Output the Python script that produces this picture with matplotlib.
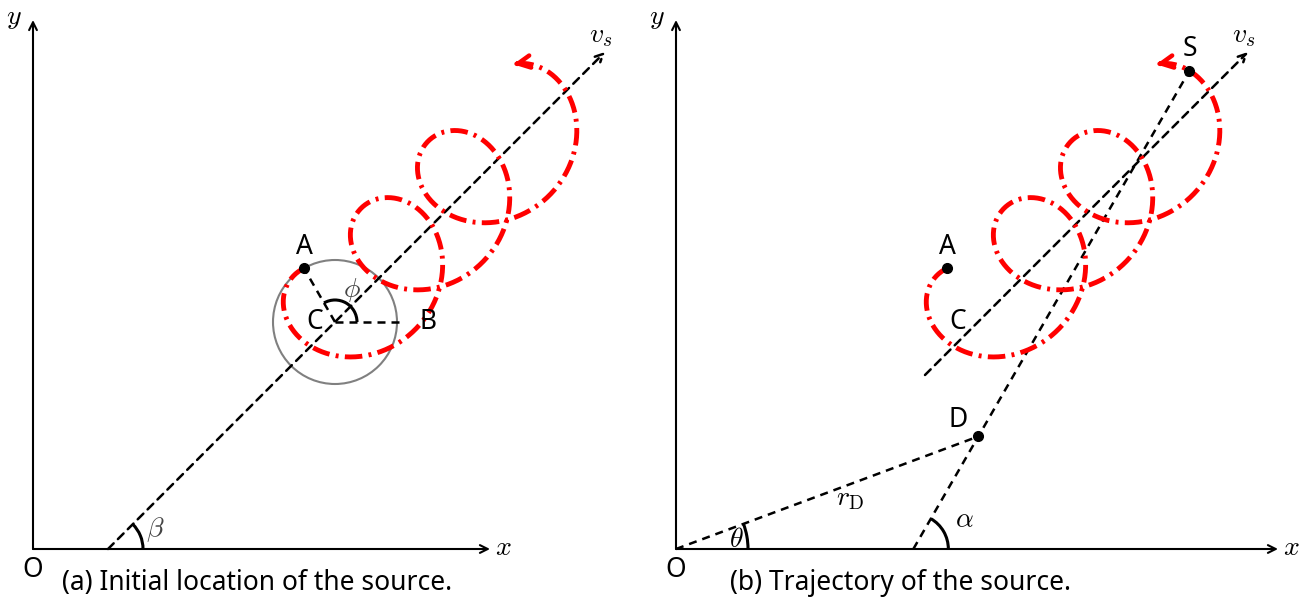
import numpy as np
import matplotlib
matplotlib.use("Agg")
import matplotlib.pyplot as plt
from matplotlib.patches import Arc, Circle
from matplotlib.transforms import Affine2D

plt.rcParams["font.family"] = ["Noto Sans", "DejaVu Sans"]
plt.rcParams["mathtext.fontset"] = "cm"

# panel origins (figure pixels, y up) and axis lengths
panel_origins = [(33, 51), (676, 51)]
x_axis_len = [457, 602]
y_axis_len = 529

# direction of travel v_s
beta_deg = 45.0
line_start_x = [75, 249]     # where the v_s line starts (along y = (x - 75) tan beta)
line_end_x = 572

# initial circle and trochoid
C = (302.0, 227.0)
R = 62.0
phi_deg = 120.0
drift_per_rad = 15.1
theta_end_deg = 1190.0
B_len = 70.0

# panel (b) geometry
theta_S_deg = 1152.0
alpha_deg = 60.0
D_dist = 130.0

captions = ["(a) Initial location of the source.", "(b) Trajectory of the source."]

DASH = (0, (3.2, 2.4))
RED_DASH = (0, (3.6, 1.3, 0.6, 1.3))
TXT = 19
MATH = 20


def trochoid(t_deg):
    t = np.radians(t_deg)
    d = drift_per_rad * (t - np.radians(phi_deg))
    u = np.array([np.cos(np.radians(beta_deg)), np.sin(np.radians(beta_deg))])
    x = C[0] + d * u[0] + R * np.cos(t)
    y = C[1] + d * u[1] + R * np.sin(t)
    return x, y


def line_y(x):
    return (x - line_start_x[0]) * np.tan(np.radians(beta_deg))


def draw_axes(ax, tr, xlen):
    kw = dict(arrowstyle="->", lw=1.5, color="black", mutation_scale=14, shrinkA=0, shrinkB=0)
    ax.annotate("", xy=(xlen, 0), xytext=(0, 0), xycoords=tr, textcoords=tr, arrowprops=kw)
    ax.annotate("", xy=(0, y_axis_len), xytext=(0, 0), xycoords=tr, textcoords=tr, arrowprops=kw)
    ax.text(xlen + 13, 1, "$x$", transform=tr, fontsize=MATH, ha="center", va="center")
    ax.text(-19, y_axis_len + 3, "$y$", transform=tr, fontsize=MATH, ha="center", va="center")
    ax.text(0, -21, "O", transform=tr, fontsize=TXT, ha="center", va="center")


def draw_vs(ax, tr, x0):
    ax.annotate("", xy=(line_end_x, line_y(line_end_x)), xytext=(x0, line_y(x0)),
                xycoords=tr, textcoords=tr,
                arrowprops=dict(arrowstyle="->", lw=1.8, color="black", linestyle=DASH,
                                mutation_scale=14, shrinkA=0, shrinkB=0))
    ax.text(line_end_x - 4, line_y(line_end_x) + 17, "$v_s$", transform=tr, fontsize=MATH,
            ha="center", va="center")


def draw_red(ax, tr):
    t = np.linspace(phi_deg, theta_end_deg - 4, 800)
    x, y = trochoid(t)
    ax.plot(x, y, color="red", lw=3.5, linestyle=RED_DASH, transform=tr, zorder=3)
    ax.annotate("", xy=trochoid(theta_end_deg), xytext=trochoid(theta_end_deg - 5),
                xycoords=tr, textcoords=tr,
                arrowprops=dict(arrowstyle="->", lw=3.2, color="red", mutation_scale=22,
                                shrinkA=0, shrinkB=0), zorder=3)


fig = plt.figure(figsize=(13.14, 6), dpi=100)
ax = fig.add_axes([0, 0, 1, 1])
ax.set_xlim(0, 1314)
ax.set_ylim(0, 600)
ax.axis("off")

A = (C[0] + R * np.cos(np.radians(phi_deg)), C[1] + R * np.sin(np.radians(phi_deg)))

for i, (ox, oy) in enumerate(panel_origins):
    tr = Affine2D().translate(ox, oy) + ax.transData
    draw_axes(ax, tr, x_axis_len[i])
    draw_vs(ax, tr, line_start_x[i])
    draw_red(ax, tr)
    ax.plot(*A, "o", color="black", ms=7, transform=tr, zorder=5)
    ax.text(A[0], A[1] + 21, "A", transform=tr, fontsize=TXT, ha="center", va="center")
    ax.text(C[0] - 20, C[1], "C", transform=tr, fontsize=TXT, ha="center", va="center", zorder=6)
    ax.text(224, -34, captions[i], transform=tr, fontsize=TXT, ha="center", va="center")

    if i == 0:
        ax.add_patch(Circle(C, R, fill=False, ec="gray", lw=1.5, transform=tr, zorder=2))
        ax.plot([C[0], A[0]], [C[1], A[1]], color="black", lw=1.8, linestyle=DASH, transform=tr)
        ax.plot([C[0], C[0] + B_len], [C[1], C[1]], color="black", lw=1.8, linestyle=DASH,
                transform=tr)
        ax.text(C[0] + 93, C[1], "B", transform=tr, fontsize=TXT, ha="center", va="center")
        ax.add_patch(Arc(C, 44, 44, theta1=0, theta2=phi_deg, lw=2.2, color="black",
                         transform=tr, zorder=4))
        ax.text(C[0] + 17, C[1] + 32, r"$\phi$", transform=tr, fontsize=MATH, ha="center",
                va="center", color="#444444")
        ax.add_patch(Arc((line_start_x[0], 0), 70, 70, theta1=0, theta2=beta_deg, lw=2.2,
                         color="black", transform=tr))
        ax.text(line_start_x[0] + 47, 19, r"$\beta$", transform=tr, fontsize=MATH, ha="center",
                va="center", color="#444444")
    else:
        S = trochoid(theta_S_deg)
        foot = S[0] - S[1] / np.tan(np.radians(alpha_deg))
        D = (foot + D_dist * np.cos(np.radians(alpha_deg)), D_dist * np.sin(np.radians(alpha_deg)))
        theta_D = np.degrees(np.arctan2(D[1], D[0]))
        ax.plot([foot, S[0]], [0, S[1]], color="black", lw=1.8, linestyle=DASH, transform=tr)
        ax.plot([0, D[0]], [0, D[1]], color="black", lw=1.8, linestyle=DASH, transform=tr)
        ax.plot(*S, "o", color="black", ms=7, transform=tr, zorder=5)
        ax.plot(*D, "o", color="black", ms=7, transform=tr, zorder=5)
        ax.text(S[0], S[1] + 22, "S", transform=tr, fontsize=TXT, ha="center", va="center")
        ax.text(D[0] - 20, D[1] + 16, "D", transform=tr, fontsize=TXT, ha="center", va="center")
        ax.add_patch(Arc((0, 0), 144, 144, theta1=0, theta2=theta_D, lw=2.2, color="black",
                         transform=tr))
        ax.text(60, 9, r"$\theta$", transform=tr, fontsize=MATH, ha="center", va="center")
        ax.add_patch(Arc((foot, 0), 70, 70, theta1=0, theta2=alpha_deg, lw=2.2, color="black",
                         transform=tr))
        ax.text(foot + 51, 29, r"$\alpha$", transform=tr, fontsize=MATH, ha="center", va="center")
        ax.text(174, 51, r"$r_{\mathrm{D}}$", transform=tr, fontsize=MATH, ha="center",
                va="center")

fig.savefig("out.png", dpi=100)
